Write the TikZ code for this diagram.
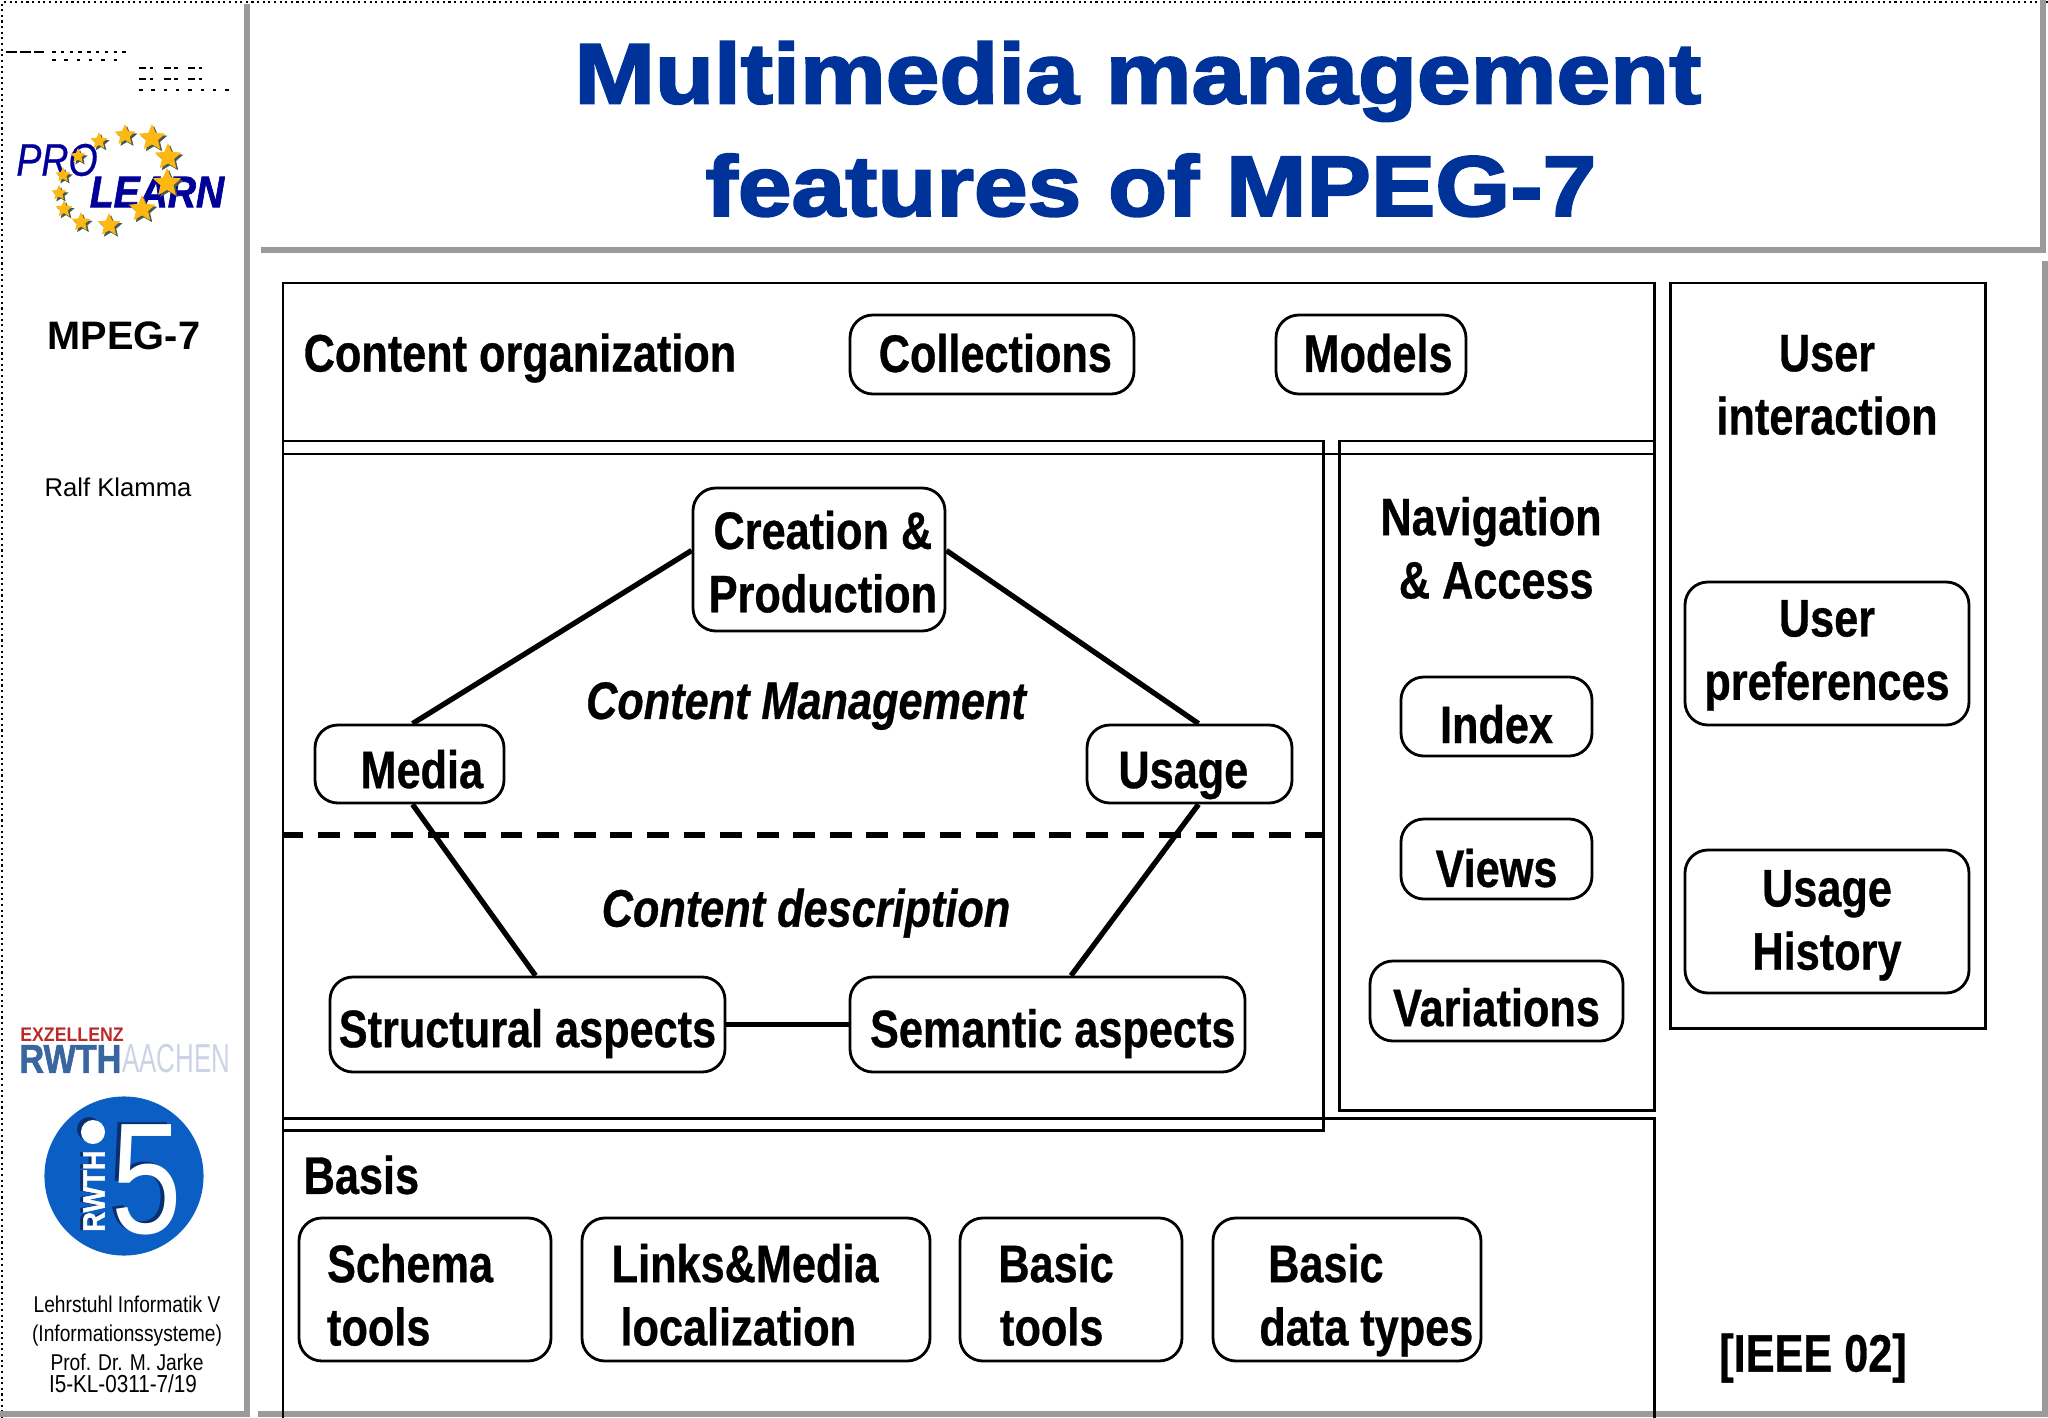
\documentclass[tikz,border=0pt]{standalone}
\usepackage{xcolor}
\usepackage{fontspec}
\usetikzlibrary{shapes.geometric,positioning}
\setmainfont{Liberation Sans}
\newfontfamily\narrowfont{Liberation Sans}[FakeStretch=.82,FakeBold=.6]
\newfontfamily\sidefont{Liberation Sans}[FakeStretch=.84]
\newfontfamily\heavyfont{Liberation Sans}[FakeStretch=.88,FakeBold=1.5]
\newfontfamily\titlefont{Liberation Sans}[FakeStretch=1.13,FakeBold=2.5]
\definecolor{titleblue}{HTML}{003399}
\definecolor{framegrey}{HTML}{9A9A9A}
\definecolor{logoblue}{HTML}{000099}
\definecolor{starorange}{HTML}{FDB813}
\definecolor{starshade}{HTML}{4A5A50}
\definecolor{rwthblue}{HTML}{3A669F}
\definecolor{rwthpale}{HTML}{CDD3E6}
\definecolor{rwthred}{HTML}{B92B2B}
\definecolor{fiveblue}{HTML}{0B5FC4}
\definecolor{fivedark}{HTML}{0A2F70}
\newcommand{\shifted}[3][l]{\hspace*{#2pt}\begin{tabular}{@{}#1@{}}#3\end{tabular}}

\begin{document}
\begin{tikzpicture}[
			x = .01cm,
			y = -.01cm,
			line cap = butt,
			framebox/.style = {draw,line width=.85pt},
			frameline/.style = {framegrey,line width=1.5pt},
			connector/.style = {line width=1.5pt},
			roundbox/.style 2 args = {draw,line width=.8pt,rounded corners=6.5pt,inner sep=0pt,
				minimum width=#1*.01cm,minimum height=#2*.01cm,
				font=\narrowfont\bfseries\fontsize{15}{18}\selectfont},
			oneline/.style = {text depth=1pt,text height=1pt+#1},
			boxtext/.style = {inner sep=0pt,font=\narrowfont\bfseries\fontsize{15}{18}\selectfont},
			sidetext/.style = {inner sep=0pt,font=\sidefont\fontsize{6.5}{7.2}\selectfont}
		]

			\useasboundingbox (0,0) rectangle (2048,1418);

			\draw[densely dotted,line width=.6pt] (2,1418) -- (2,2) -- (2048,2);
			\draw[frameline] (247,4) -- (247,1414) -- (0,1414);
			\draw[frameline] (261,250) -- (2043,250) -- (2043,0);
			\draw[frameline] (2045,261) -- (2045,1414) -- (258,1414);

			\node[inner sep=0pt,align=center,text=titleblue,font=\titlefont\bfseries\fontsize{24.3}{32}\selectfont] (title) at (1138,129) {Multimedia management\\\hspace*{7.4pt}features of MPEG-7};

			\draw[dash pattern=on 3pt off 1pt,line width=.7pt] (6,52) -- (44,52);
			\draw[dash pattern=on 1pt off 1.5pt,line width=.6pt] (52,52) -- (128,52);
			\draw[dash pattern=on 1pt off 2.5pt,line width=.5pt] (52,60) -- (122,60);
			\draw[dash pattern=on 2pt off 1pt on 1pt off 3pt,line width=.7pt] (139,68) -- (212,68);
			\draw[dash pattern=on 2pt off 1pt on 1pt off 3pt,line width=.7pt] (139,79) -- (212,79);
			\draw[dash pattern=on 1pt off 2.5pt,line width=.5pt] (139,90) -- (236,90);

			\node[inner sep=0pt,text=logoblue,font=\narrowfont\itshape\fontsize{13}{13}\selectfont] (pro) at (57,160) {PRO};
			\node[inner sep=0pt,text=logoblue,font=\heavyfont\bfseries\itshape\fontsize{12.6}{13}\selectfont] (learn) at (157,192) {LEARN};
			\foreach \i/\px/\py/\rad in {1/125/135/11,2/152/138/14,3/168/157/14,4/167/183/15,5/142/209/14,6/109/225/12,7/81/222/10,8/64/209/9,9/59/193/8,10/63/175/8,11/78/156/8,12/99/141/9}{
				\node[star,star points=5,star point ratio=2.2,fill=starshade,inner sep=0pt,minimum size=2*\rad*.01cm] (shade\i) at (\px+2,\py+2) {};
				\node[star,star points=5,star point ratio=2.2,fill=starorange,inner sep=0pt,minimum size=2*\rad*.01cm] (star\i) at (\px,\py) {};
			}

			\node[inner sep=0pt,font=\bfseries\fontsize{11.3}{12}\selectfont] (topic) at (124,336) {MPEG-7};
			\node[inner sep=0pt,font=\fontsize{7.3}{8}\selectfont] (author) at (118,487) {Ralf Klamma};

			\node[inner sep=0pt,text=rwthred,font=\bfseries\fontsize{5.6}{6}\selectfont,xscale=.9] (exzellenz) at (72,1035) {EXZELLENZ};
			\node[inner sep=0pt,anchor=west,text=rwthpale,xscale=.64,font=\fontsize{11.5}{12}\selectfont] (aachen) at (122,1059) {AACHEN};
			\node[inner sep=0pt,anchor=east,text=rwthblue,xscale=.96,font=\heavyfont\bfseries\fontsize{11.5}{12}\selectfont] (rwth) at (122,1059) {RWTH};

			\node[circle,fill=fiveblue,minimum size=1.59cm,inner sep=0pt] (disc) at (124,1176) {};
			\node[inner sep=0pt,text=fivedark,xscale=.8,font=\fontsize{45}{46}\selectfont] (fiveshadow) at (143,1178) {5};
			\node[inner sep=0pt,text=white,xscale=.8,font=\fontsize{45}{46}\selectfont] (five) at (147,1180) {5};
			\node[circle,fill=fivedark,minimum size=.24cm,inner sep=0pt] (dotshadow) at (89,1129) {};
			\node[circle,fill=white,minimum size=.24cm,inner sep=0pt] (dot) at (93,1132) {};
			\node[inner sep=0pt,rotate=90,text=fivedark,font=\heavyfont\bfseries\fontsize{8.8}{9}\selectfont] (stemshadow) at (91,1191) {RWTH};
			\node[inner sep=0pt,rotate=90,text=white,font=\heavyfont\bfseries\fontsize{8.8}{9}\selectfont] (stemtext) at (94,1191) {RWTH};

			\node[sidetext,align=center] (chair) at (127,1333) {Lehrstuhl Informatik V\\[1pt](Informationssysteme)\\[1pt]Prof. Dr. M. Jarke};
			\node[inner sep=0pt,font=\sidefont\fontsize{7}{8}\selectfont] (slideid) at (123,1384) {I5-KL-0311-7/19};

			\draw[framebox] (283,283) rectangle (1654,454);
			\draw[framebox] (283,441) rectangle (1323,1130);
			\draw[framebox] (283,454) -- (1323,454);
			\draw[framebox] (1339,441) rectangle (1654,1110);
			\draw[framebox] (1339,454) -- (1654,454);
			\draw[framebox] (283,1118) -- (1654,1118) -- (1654,1418);
			\draw[framebox] (283,1118) -- (283,1418);
			\draw[framebox] (1670,283) rectangle (1985,1028);

			\node[boxtext,anchor=west] (organization) at (303,358) {Content organization};
			\node[roundbox={284}{79},oneline=9.9pt] (collections) at (992,354.5) {\hspace*{1.9pt}Collections};
			\node[roundbox={190}{79},oneline=9.9pt] (models) at (1371,354.5) {\hspace*{4pt}Models};

			\node[boxtext,align=center] (interaction) at (1827,385) {User\\interaction};
			\node[roundbox={284}{143},oneline=8.3pt] (preferences) at (1827,653.5) {\shifted[c]{0}{User\\preferences}};
			\node[roundbox={284}{143},oneline=9.4pt] (history) at (1827,921.5) {\shifted[c]{0}{Usage\\History}};

			\node[boxtext,align=center] (navigation) at (1491,548) {Navigation\\\hspace*{3pt}\& Access};
			\node[roundbox={191}{79},oneline=15.1pt] (index) at (1496.5,716.5) {Index};
			\node[roundbox={191}{80},oneline=15.9pt] (views) at (1496.5,859) {Views};
			\node[roundbox={253}{80},oneline=14.3pt] (variations) at (1496.5,1001) {Variations};

			\node[roundbox={252}{143},oneline=12pt] (creation) at (819,559.5) {\shifted[c]{2.2}{Creation \&\\Production}};
			\node[roundbox={189}{78},oneline=13.7pt] (media) at (409.5,764) {\hspace*{7pt}Media};
			\node[roundbox={205}{78},oneline=13.7pt] (usage) at (1189.5,764) {Usage\hspace*{3.5pt}};
			\node[roundbox={395}{95},oneline=12.9pt] (structural) at (527.5,1024.5) {Structural aspects};
			\node[roundbox={395}{95},oneline=12.9pt] (semantic) at (1047.5,1024.5) {\hspace*{3pt}Semantic aspects};

			\node[boxtext,font=\narrowfont\bfseries\itshape\fontsize{15}{18}\selectfont] (management) at (806,706) {Content Management};
			\node[boxtext,font=\narrowfont\bfseries\itshape\fontsize{15}{18}\selectfont] (description) at (806,913) {Content description};

			\draw[connector] ([yshift=.09cm]creation.west) -- ([xshift=.03cm]media.north);
			\draw[connector] ([yshift=.09cm]creation.east) -- ([xshift=.09cm]usage.north);
			\draw[connector] ([xshift=.03cm]media.south) -- ([xshift=.08cm]structural.north);
			\draw[connector] ([xshift=.09cm]usage.south) -- ([xshift=.235cm]semantic.north);
			\draw[connector] (structural.east) -- (semantic.west);
			\draw[connector,dash pattern=on 6.2pt off 4.2pt,dash phase=.5pt] (283,835) -- (1323,835);

			\node[boxtext,anchor=west] (basis) at (303,1175) {Basis};
			\node[roundbox={252}{143},oneline=13.8pt] (schema) at (425,1289.5) {\shifted{-8.5}{Schema\\tools}};
			\node[roundbox={348}{143},oneline=13.8pt] (links) at (756,1289.5) {\shifted{-6.2}{Links\&Media\\\hspace*{2.5pt}localization}};
			\node[roundbox={222}{143},oneline=13.8pt] (basictools) at (1071,1289.5) {\shifted{-8.5}{Basic\\\hspace*{.5pt}tools}};
			\node[roundbox={268}{143},oneline=13.8pt] (datatypes) at (1347,1289.5) {\shifted{11}{\hspace*{2.5pt}Basic\\data types}};

			\node[boxtext] (source) at (1813,1358) {[IEEE 02]};

		\end{tikzpicture}
\end{document}
